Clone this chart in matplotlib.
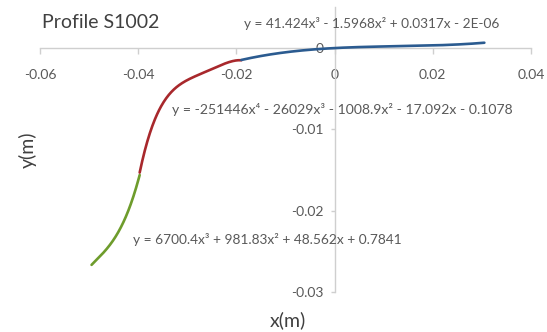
import numpy as np
import matplotlib
matplotlib.use('Agg')
import matplotlib.pyplot as plt

plt.rcParams['font.family'] = ['Lato', 'DejaVu Sans']

title = "Profile S1002"
x_label = "x(m)"
y_label = "y(m)"
x_ticks = [-0.06, -0.04, -0.02, 0, 0.02, 0.04]
x_tick_labels = ["-0.06", "-0.04", "-0.02", "0", "0.02", "0.04"]
y_ticks = [0, -0.01, -0.02, -0.03]
y_tick_labels = ["0", "-0.01", "-0.02", "-0.03"]

# polynomial trendline segments (coefficients highest power first, as printed on chart)
blue_coef = [41.424, -1.5968, 0.0317, -2e-06]
blue_range = [-0.019, 0.0305]
red_coef = [-251446, -26029, -1008.9, -17.092, -0.1078]
red_range = [-0.0397, -0.019]
green_coef = [6700.4, 981.83, 48.562, 0.7841]
green_range = [-0.0495, -0.0397]

eq_blue = "y = 41.424x³ - 1.5968x² + 0.0317x - 2E-06"
eq_red = "y = -251446x⁴ - 26029x³ - 1008.9x² - 17.092x - 0.1078"
eq_green = "y = 6700.4x³ + 981.83x² + 48.562x + 0.7841"

W, H = 547, 332
fig = plt.figure(figsize=(W / 100, H / 100), dpi=100)
ax = fig.add_axes([40 / W, 1 - 292 / H, 491 / W, (292 - 7.4) / H])

def seg(coef, rng, color):
    xs = np.linspace(rng[0], rng[1], 200)
    ax.plot(xs, np.polyval(coef, xs), color=color, lw=1.9, solid_capstyle='round', zorder=3)

seg(green_coef, green_range, '#6e9c2c')
seg(red_coef, red_range, '#a8282c')
seg(blue_coef, blue_range, '#2b5b90')

ax.set_xlim(-0.06, 0.04)
ax.set_ylim(-0.03, 0.005)
for s in ['top', 'right']:
    ax.spines[s].set_visible(False)
ax.spines['left'].set_position(('data', 0))
ax.spines['bottom'].set_position(('data', 0))
axis_gray = '#cfcfcf'
for s in ['left', 'bottom']:
    ax.spines[s].set_color(axis_gray)
    ax.spines[s].set_linewidth(1.0)
ax.spines['left'].set_bounds(-0.03, 0.005)

ax.set_xticks(x_ticks)
ax.set_xticklabels(x_tick_labels)
ax.set_yticks(y_ticks)
ax.set_yticklabels(y_tick_labels)
ax.tick_params(axis='x', direction='out', length=4, width=1.0, color=axis_gray,
               labelsize=10, labelcolor='#595959', pad=11)
ax.tick_params(axis='y', direction='out', length=3, width=1.0, color=axis_gray,
               labelsize=10, labelcolor='#595959', pad=5)
ax.patch.set_visible(False)

txt = '#404040'
fig.text(42 / W, 1 - 23 / H, title, ha='left', va='center', fontsize=14, color=txt)
fig.text(244 / W, 1 - 23 / H, eq_blue, ha='left', va='center', fontsize=9.8, color='#595959')
fig.text(172 / W, 1 - 110 / H, eq_red, ha='left', va='center', fontsize=10.1, color='#595959')
fig.text(133 / W, 1 - 240 / H, eq_green, ha='left', va='center', fontsize=9.9, color='#595959')
fig.text(28 / W, 1 - 150 / H, y_label, ha='center', va='center', rotation=90, fontsize=14, color=txt)
fig.text(288 / W, 1 - 320 / H, x_label, ha='center', va='center', fontsize=14, color=txt)

fig.savefig('out.png', dpi=100)
